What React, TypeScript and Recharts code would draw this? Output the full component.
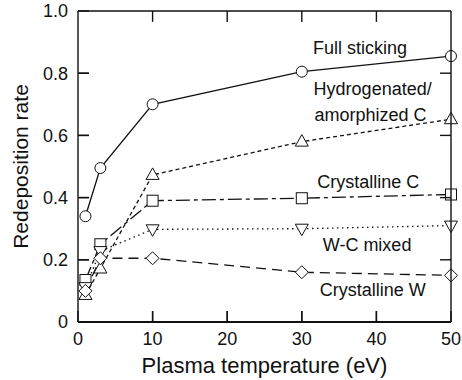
import { LineChart, Line, XAxis, YAxis, ReferenceDot, ReferenceLine } from "recharts";

const TEMPS = [1, 3, 10, 30, 50];
const FULL_STICKING = [0.34, 0.495, 0.7, 0.805, 0.855];
const HYDROGENATED_C = [0.087, 0.172, 0.473, 0.58, 0.652];
const CRYSTALLINE_C = [0.135, 0.25, 0.39, 0.398, 0.41];
const WC_MIXED = [0.112, 0.228, 0.298, 0.3, 0.31];
const CRYSTALLINE_W = [0.1, 0.205, 0.205, 0.16, 0.15];

const X_TICKS = [0, 10, 20, 30, 40, 50];
const Y_TICKS = [0, 0.2, 0.4, 0.6, 0.8, 1.0];

const NOTES = [
  { text: "Full sticking", x: 37.8, y: 0.881 },
  { text: "Hydrogenated/", x: 39.5, y: 0.752 },
  { text: "amorphized C", x: 39.2, y: 0.668 },
  { text: "Crystalline C", x: 38.9, y: 0.45 },
  { text: "W-C mixed", x: 38.75, y: 0.248 },
  { text: "Crystalline W", x: 39.5, y: 0.103 },
];

const data = TEMPS.map((t, i) => ({
  t,
  full: FULL_STICKING[i],
  hyd: HYDROGENATED_C[i],
  cc: CRYSTALLINE_C[i],
  wc: WC_MIXED[i],
  cw: CRYSTALLINE_W[i],
}));

const FONT = "Liberation Sans";
const INK = "#111111";
// inward tick length in data units (~11px)
const X_TICK_LEN = 1.47;
const Y_TICK_LEN = 0.035;

type Shape = "circle" | "triUp" | "square" | "triDown" | "diamond";

const makeDot = (shape: Shape) => (props: any) => {
  const { cx, cy, index } = props;
  const common = { stroke: INK, strokeWidth: 1, fill: "#fff" };
  if (shape === "circle") return <circle key={index} cx={cx} cy={cy} r={5.5} {...common} />;
  if (shape === "square")
    return <rect key={index} x={cx - 5.5} y={cy - 5.5} width={11} height={11} {...common} />;
  if (shape === "triUp")
    return (
      <polygon
        key={index}
        points={`${cx},${cy - 7} ${cx - 6.5},${cy + 4.5} ${cx + 6.5},${cy + 4.5}`}
        {...common}
      />
    );
  if (shape === "triDown")
    return (
      <polygon
        key={index}
        points={`${cx},${cy + 7} ${cx - 6.5},${cy - 4.5} ${cx + 6.5},${cy - 4.5}`}
        {...common}
      />
    );
  return (
    <polygon
      key={index}
      points={`${cx},${cy - 6.5} ${cx + 6.5},${cy} ${cx},${cy + 6.5} ${cx - 6.5},${cy}`}
      {...common}
    />
  );
};

const dotCircle = makeDot("circle");
const dotTriUp = makeDot("triUp");
const dotSquare = makeDot("square");
const dotTriDown = makeDot("triDown");
const dotDiamond = makeDot("diamond");

const tickText = { fontSize: 18, fontFamily: FONT, fill: INK };
const tickStroke = { stroke: INK, strokeWidth: 1.4 };
const xIn = X_TICKS.slice(1, -1);
const yIn = Y_TICKS.slice(1, -1);

const frameSegments = [
  ...xIn.map((v) => [{ x: v, y: 0 }, { x: v, y: Y_TICK_LEN }]),
  ...xIn.map((v) => [{ x: v, y: 1 }, { x: v, y: 1 - Y_TICK_LEN }]),
  ...yIn.map((v) => [{ x: 0, y: v }, { x: X_TICK_LEN, y: v }]),
  ...yIn.map((v) => [{ x: 50, y: v }, { x: 50 - X_TICK_LEN, y: v }]),
];

export default function App() {
  return (
    <div style={{ position: "fixed", left: 0, top: 0, width: 462, height: 380, background: "#fff" }}>
      <LineChart width={462} height={380} data={data} margin={{ top: 11, right: 11, left: 0, bottom: 0 }}>
        <XAxis
          dataKey="t"
          type="number"
          domain={[0, 50]}
          ticks={X_TICKS}
          height={58}
          tickSize={-11}
          tickMargin={21}
          tickLine={tickStroke}
          tick={tickText}
          axisLine={{ stroke: INK, strokeWidth: 1.8 }}
          label={{
            value: "Plasma temperature (eV)",
            position: "insideBottom",
            offset: 7,
            fontSize: 22,
            fontFamily: FONT,
            fill: INK,
          }}
        />
        <YAxis
          type="number"
          domain={[0, 1]}
          ticks={Y_TICKS}
          width={78}
          tickSize={-11}
          tickMargin={21}
          tickLine={tickStroke}
          tick={tickText}
          tickFormatter={(v: number) => (v === 0 ? "0" : v.toFixed(1))}
          axisLine={{ stroke: INK, strokeWidth: 1.4 }}
          label={{
            value: "Redeposition rate",
            angle: -90,
            position: "insideLeft",
            offset: 21,
            style: { textAnchor: "middle" },
            fontSize: 21,
            fontFamily: FONT,
            fill: INK,
          }}
        />
        <Line dataKey="full" stroke={INK} strokeWidth={1.3} dot={dotCircle} isAnimationActive={false} />
        <Line
          dataKey="hyd"
          stroke={INK}
          strokeWidth={1.3}
          strokeDasharray="4 3"
          dot={dotTriUp}
          isAnimationActive={false}
        />
        <Line
          dataKey="cc"
          stroke={INK}
          strokeWidth={1.3}
          strokeDasharray="14 4 4 4"
          dot={dotSquare}
          isAnimationActive={false}
        />
        <Line
          dataKey="wc"
          stroke={INK}
          strokeWidth={1.3}
          strokeDasharray="1.5 3.5"
          dot={dotTriDown}
          isAnimationActive={false}
        />
        <Line
          dataKey="cw"
          stroke={INK}
          strokeWidth={1.3}
          strokeDasharray="10 6"
          dot={dotDiamond}
          isAnimationActive={false}
        />
        {NOTES.map((n) => (
          <ReferenceDot
            key={n.text}
            x={n.x}
            y={n.y}
            r={0}
            fill="none"
            stroke="none"
            label={{ value: n.text, position: "center", fontSize: 18, fontFamily: FONT, fill: INK }}
          />
        ))}
        {/* box on top/right plus inward ticks on all four sides */}
        <ReferenceLine y={1} stroke={INK} strokeWidth={1.4} ifOverflow="visible" zIndex={1500} />
        <ReferenceLine x={50} stroke={INK} strokeWidth={1.4} ifOverflow="visible" zIndex={1500} />
        {frameSegments.map((seg, i) => (
          <ReferenceLine
            key={`tk${i}`}
            segment={seg}
            stroke={INK}
            strokeWidth={1.4}
            ifOverflow="visible"
            zIndex={1500}
          />
        ))}
      </LineChart>
    </div>
  );
}
